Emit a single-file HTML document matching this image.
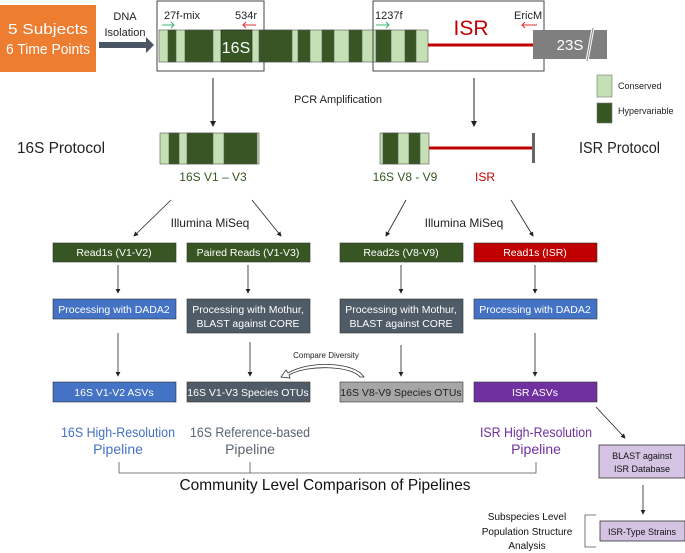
<!DOCTYPE html>
<html><head><meta charset="utf-8"><style>
html,body{margin:0;padding:0;background:#fff;}
svg{display:block;font-family:"Liberation Sans",sans-serif;}
</style></head><body>
<svg width="685" height="553" viewBox="0 0 685 553" xmlns="http://www.w3.org/2000/svg">
<defs>
<marker id="ah" markerWidth="6" markerHeight="6" refX="5" refY="3" orient="auto"><path d="M0,0 L6,3 L0,6 z" fill="#222"/></marker>
</defs>
<rect x="0" y="5" width="96" height="67" fill="#ed7d31"/>
<text x="48" y="34" font-size="15" fill="#fff" text-anchor="middle" textLength="80" lengthAdjust="spacingAndGlyphs">5 Subjects</text>
<text x="48" y="54" font-size="15" fill="#fff" text-anchor="middle" textLength="84" lengthAdjust="spacingAndGlyphs">6 Time Points</text>
<text x="125" y="20" font-size="11" fill="#222" text-anchor="middle">DNA</text>
<text x="125" y="36" font-size="11" fill="#222" text-anchor="middle">Isolation</text>
<path d="M99,42 H146 V37 L154,45 L146,53 V48 H99 z" fill="#4a5663"/>
<g stroke="#555" stroke-width="0.6">
<rect x="159" y="30" width="269" height="32" fill="#c5e0b4"/>
<rect x="168" y="30" width="8" height="32" fill="#375623"/>
<rect x="185" y="30" width="28" height="32" fill="#375623"/>
<rect x="221" y="30" width="31" height="32" fill="#375623" stroke="#222"/>
<rect x="259" y="30" width="33" height="32" fill="#375623"/>
<rect x="298" y="30" width="12" height="32" fill="#375623"/>
<rect x="322" y="30" width="12" height="32" fill="#375623"/>
<rect x="349" y="30" width="13" height="32" fill="#375623"/>
<rect x="376" y="30" width="15" height="32" fill="#375623"/>
<rect x="405" y="30" width="11" height="32" fill="#375623"/>
</g>
<text x="236" y="53" font-size="16" fill="#fff" text-anchor="middle">16S</text>
<rect x="157" y="1" width="107" height="70" fill="none" stroke="#444" stroke-width="1"/>
<rect x="373" y="1" width="171" height="70" fill="none" stroke="#444" stroke-width="1"/>
<line x1="428" y1="45" x2="533" y2="45" stroke="#c00000" stroke-width="3"/>
<rect x="533" y="30" width="74" height="29" fill="#7f7f7f"/>
<text x="570" y="50" font-size="15" fill="#fff" text-anchor="middle">23S</text>
<line x1="587" y1="61" x2="593" y2="28" stroke="#fff" stroke-width="3"/>
<line x1="587" y1="61" x2="593" y2="28" stroke="#888" stroke-width="1"/>
<text x="164" y="19" font-size="11" fill="#222">27f-mix</text>
<text x="235" y="19" font-size="11" fill="#222">534r</text>
<text x="375" y="19" font-size="11" fill="#222">1237f</text>
<text x="514" y="19" font-size="11" fill="#222">EricM</text>
<text x="471" y="35" font-size="21" fill="#c00000" text-anchor="middle">ISR</text>
<g stroke-width="1" fill="none">
<path d="M162,25 H174 M171,22 L174,25 L171,28" stroke="#3cb371"/>
<path d="M376,25 H389 M386,22 L389,25 L386,28" stroke="#3cb371"/>
<path d="M243,25 H256 M246,22 L243,25 L246,28" stroke="#e03030"/>
<path d="M522,25 H537 M525,22 L522,25 L525,28" stroke="#e03030"/>
</g>
<rect x="597" y="75" width="15" height="22" fill="#c5e0b4" stroke="#777" stroke-width="0.6"/>
<rect x="597" y="103" width="15" height="20" fill="#375623" stroke="#777" stroke-width="0.6"/>
<text x="618" y="89" font-size="9" fill="#222">Conserved</text>
<text x="618" y="114" font-size="9" fill="#222">Hypervariable</text>
<text x="338" y="103" font-size="11" fill="#222" text-anchor="middle">PCR Amplification</text>
<g stroke="#222" stroke-width="1" marker-end="url(#ah)">
<line x1="213" y1="78" x2="213" y2="126"/>
<line x1="474" y1="78" x2="474" y2="126"/>
</g>
<text x="17" y="153" font-size="16" fill="#222" textLength="88" lengthAdjust="spacingAndGlyphs">16S Protocol</text>
<text x="579" y="153" font-size="16" fill="#222" textLength="81" lengthAdjust="spacingAndGlyphs">ISR Protocol</text>
<g stroke="#555" stroke-width="0.6">
<rect x="160" y="133" width="99" height="31" fill="#c5e0b4"/>
<rect x="169" y="133" width="10" height="31" fill="#375623"/>
<rect x="187" y="133" width="26" height="31" fill="#375623"/>
<rect x="224" y="133" width="33" height="31" fill="#375623"/>
<rect x="380" y="133" width="49" height="31" fill="#c5e0b4"/>
<rect x="383" y="133" width="15" height="31" fill="#375623"/>
<rect x="409" y="133" width="11" height="31" fill="#375623"/>
</g>
<line x1="429" y1="148" x2="533" y2="148" stroke="#c00000" stroke-width="3"/>
<rect x="532" y="133" width="3" height="30" fill="#666"/>
<text x="213" y="181" font-size="12" fill="#375623" text-anchor="middle">16S V1 – V3</text>
<text x="405" y="181" font-size="12" fill="#375623" text-anchor="middle">16S V8 - V9</text>
<text x="485" y="181" font-size="12" fill="#c00000" text-anchor="middle">ISR</text>
<g stroke="#222" stroke-width="0.8" marker-end="url(#ah)">
<line x1="171" y1="200" x2="134" y2="236"/>
<line x1="252" y1="200" x2="281" y2="236"/>
<line x1="406" y1="200" x2="386" y2="236"/>
<line x1="511" y1="200" x2="533" y2="236"/>
</g>
<text x="210" y="227" font-size="12" fill="#222" text-anchor="middle">Illumina MiSeq</text>
<text x="464" y="227" font-size="12" fill="#222" text-anchor="middle">Illumina MiSeq</text>
<g stroke="#333" stroke-width="0.6">
<rect x="53" y="243" width="123" height="19" fill="#375623"/>
<rect x="187" y="243" width="123" height="19" fill="#375623"/>
<rect x="340" y="243" width="123" height="19" fill="#375623"/>
<rect x="474" y="243" width="123" height="19" fill="#c00000"/>
<rect x="53" y="299" width="123" height="20" fill="#4472c4"/>
<rect x="187" y="299" width="123" height="34" fill="#4f5b66"/>
<rect x="340" y="299" width="123" height="34" fill="#4f5b66"/>
<rect x="474" y="299" width="123" height="20" fill="#4472c4"/>
<rect x="53" y="382" width="123" height="20" fill="#4472c4"/>
<rect x="187" y="382" width="123" height="20" fill="#4f5b66"/>
<rect x="340" y="382" width="123" height="20" fill="#a6a6a6"/>
<rect x="474" y="382" width="123" height="20" fill="#7030a0"/>
</g>
<g font-size="10.5" text-anchor="middle" fill="#fff">
<text x="114" y="256">Read1s (V1-V2)</text>
<text x="248" y="256">Paired Reads (V1-V3)</text>
<text x="401" y="256">Read2s (V8-V9)</text>
<text x="535" y="256">Read1s (ISR)</text>
<text x="114" y="313">Processing with DADA2</text>
<text x="248" y="313">Processing with Mothur,</text>
<text x="248" y="327">BLAST against CORE</text>
<text x="401" y="313">Processing with Mothur,</text>
<text x="401" y="327">BLAST against CORE</text>
<text x="535" y="313">Processing with DADA2</text>
<text x="114" y="396">16S V1-V2 ASVs</text>
<text x="248" y="396">16S V1-V3 Species OTUs</text>
<text x="401" y="396" fill="#222">16S V8-V9 Species OTUs</text>
<text x="535" y="396">ISR ASVs</text>
</g>
<g stroke="#222" stroke-width="0.8" marker-end="url(#ah)">
<line x1="118" y1="265" x2="118" y2="293"/>
<line x1="248" y1="265" x2="248" y2="293"/>
<line x1="401" y1="265" x2="401" y2="293"/>
<line x1="535" y1="265" x2="535" y2="293"/>
<line x1="118" y1="333" x2="118" y2="376"/>
<line x1="250" y1="342" x2="250" y2="376"/>
<line x1="401" y1="345" x2="401" y2="376"/>
<line x1="535" y1="333" x2="535" y2="376"/>
<line x1="596" y1="407" x2="625" y2="438"/>
<line x1="643" y1="485" x2="643" y2="514"/>
</g>
<text x="326" y="358" font-size="8" fill="#222" text-anchor="middle">Compare Diversity</text>
<path d="M364,377 C355,362 310,360 288,373 L286,370 L281,377 L290,378 L289,375 C308,364 352,366 360,377 z" fill="#fff" stroke="#333" stroke-width="0.8"/>
<g font-size="14" text-anchor="middle">
<text x="118" y="437" fill="#4472c4" textLength="114" lengthAdjust="spacingAndGlyphs">16S High-Resolution</text>
<text x="118" y="454" fill="#4472c4">Pipeline</text>
<text x="250" y="437" fill="#5a6470" textLength="120" lengthAdjust="spacingAndGlyphs">16S Reference-based</text>
<text x="250" y="454" fill="#5a6470">Pipeline</text>
<text x="536" y="437" fill="#7030a0" textLength="112" lengthAdjust="spacingAndGlyphs">ISR High-Resolution</text>
<text x="536" y="454" fill="#7030a0">Pipeline</text>
</g>
<path d="M119,462 V473 H536 V462 M250,462 V473" fill="none" stroke="#555" stroke-width="0.8"/>
<text x="325" y="490" font-size="16" fill="#111" text-anchor="middle" textLength="291" lengthAdjust="spacingAndGlyphs">Community Level Comparison of Pipelines</text>
<rect x="599" y="445" width="86" height="33" fill="#d5c3e3" stroke="#333" stroke-width="0.8"/>
<text x="642" y="459" font-size="9" fill="#111" text-anchor="middle">BLAST against</text>
<text x="642" y="472" font-size="9" fill="#111" text-anchor="middle">ISR Database</text>
<rect x="600" y="521" width="85" height="20" fill="#d5c3e3" stroke="#333" stroke-width="0.8"/>
<text x="642" y="535" font-size="9" fill="#111" text-anchor="middle">ISR-Type Strains</text>
<g font-size="10" fill="#111" text-anchor="middle">
<text x="527" y="520">Subspecies Level</text>
<text x="527" y="535">Population Structure</text>
<text x="527" y="549">Analysis</text>
</g>
<path d="M596,515 H585 V547 H596" fill="none" stroke="#555" stroke-width="0.8"/>
</svg>
</body></html>
